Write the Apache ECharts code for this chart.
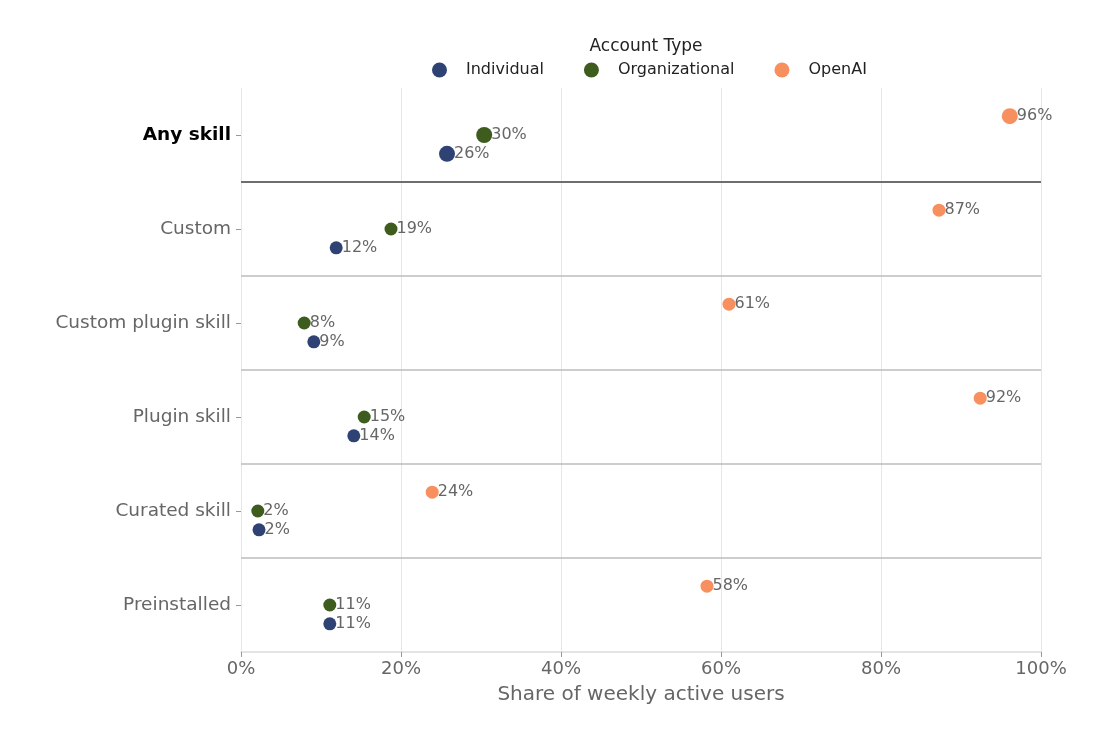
<!DOCTYPE html>
<html>
<head>
<meta charset="utf-8">
<script src="https://cdn.jsdelivr.net/npm/echarts@6/dist/echarts.min.js"></script>
<style>
  html, body { margin: 0; padding: 0; background: #fff; }
  #chart { width: 1115px; height: 749px; }
</style>
</head>
<body>
<div id="chart"></div>
<script>
var categories = ['Any skill', 'Custom', 'Custom plugin skill', 'Plugin skill', 'Curated skill', 'Preinstalled'];
var seriesNames = ['Individual', 'Organizational', 'OpenAI'];
var individual = [25.75, 11.9, 9.1, 14.1, 2.25, 11.1];
var organizational = [30.4, 18.75, 7.9, 15.4, 2.1, 11.1];
var openai = [96.1, 87.25, 61.0, 92.4, 23.9, 58.25];
var xTicks = [0, 20, 40, 60, 80, 100];

var colors = ['#2e4374', '#3d5c1e', '#f7905e'];
var offsets = [0.2, 0, -0.2];
var values = [individual, organizational, openai];

var font = 'DejaVu Sans';

function makeSeries(k) {
    return {
        name: seriesNames[k],
        type: 'scatter',
        yAxisIndex: 1,
        z: 5,
        data: values[k].map(function (v, i) {
            return {
                value: [v, i + offsets[k]],
                symbolSize: i === 0 ? 16 : 13
            };
        }),
        itemStyle: { color: colors[k], opacity: 1 },
        label: {
            show: true,
            position: 'right',
            distance: -1,
            color: '#666',
            fontSize: 16,
            fontFamily: font,
            formatter: function (p) { return Math.round(p.value[0]) + '%'; }
        },
        emphasis: { disabled: true }
    };
}

var series = [0, 1, 2].map(makeSeries);

// separators between categories
var sepLines = [];
for (var i = 0; i < categories.length - 1; i++) {
    sepLines.push({
        yAxis: i + 0.5,
        lineStyle: { color: i === 0 ? '#6e6e6e' : '#bdbdbd', width: i === 0 ? 2 : 1.5, type: 'solid' }
    });
}
series[0].markLine = {
    silent: true,
    symbol: 'none',
    label: { show: false },
    data: sepLines,
    z: 1
};

echarts.init(document.getElementById('chart')).setOption({
    backgroundColor: '#fff',
    animation: false,
    textStyle: { fontFamily: font },
    title: {
        text: 'Account Type',
        left: 641,
        textAlign: 'center',
        top: 33,
        textStyle: { fontSize: 17, fontWeight: 'normal', color: '#222', fontFamily: font }
    },
    legend: {
        data: seriesNames,
        left: 427,
        top: 57,
        icon: 'circle',
        itemWidth: 15,
        itemHeight: 15,
        itemGap: 40,
        textStyle: { fontSize: 16, color: '#222', fontFamily: font, padding: [0, 0, 0, 14] }
    },
    grid: { left: 241, right: 74, top: 88, bottom: 97, containLabel: false },
    xAxis: {
        type: 'value',
        min: 0,
        max: 100,
        interval: 20,
        name: 'Share of weekly active users',
        nameLocation: 'middle',
        nameGap: 33,
        nameTextStyle: { fontSize: 20, color: '#666', fontFamily: font },
        axisLine: { show: true, onZero: false, lineStyle: { color: '#dcdcdc', width: 1.5 } },
        axisTick: { show: true, length: 5, lineStyle: { color: '#999' } },
        axisLabel: {
            fontSize: 18, color: '#666', fontFamily: font, margin: 8,
            formatter: function (v) { return xTicks.indexOf(v) >= 0 ? v + '%' : ''; }
        },
        splitLine: { show: true, lineStyle: { color: '#e6e6e6', width: 1 } }
    },
    yAxis: [{
        type: 'category',
        data: categories,
        inverse: true,
        axisLine: { show: false },
        axisTick: { show: true, alignWithLabel: true, length: 5, lineStyle: { color: '#999' } },
        axisLabel: {
            fontSize: 18.5,
            fontFamily: font,
            color: '#666',
            margin: 10,
            formatter: function (v, i) { return i === 0 ? '{b|' + v + '}' : v; },
            rich: { b: { fontSize: 18.5, fontWeight: 'bold', color: '#000', fontFamily: font } }
        },
        splitLine: { show: false }
    }, {
        type: 'value',
        min: -0.5,
        max: categories.length - 0.5,
        inverse: true,
        show: false,
        splitLine: { show: false }
    }],
    series: series
});
</script>
</body>
</html>
